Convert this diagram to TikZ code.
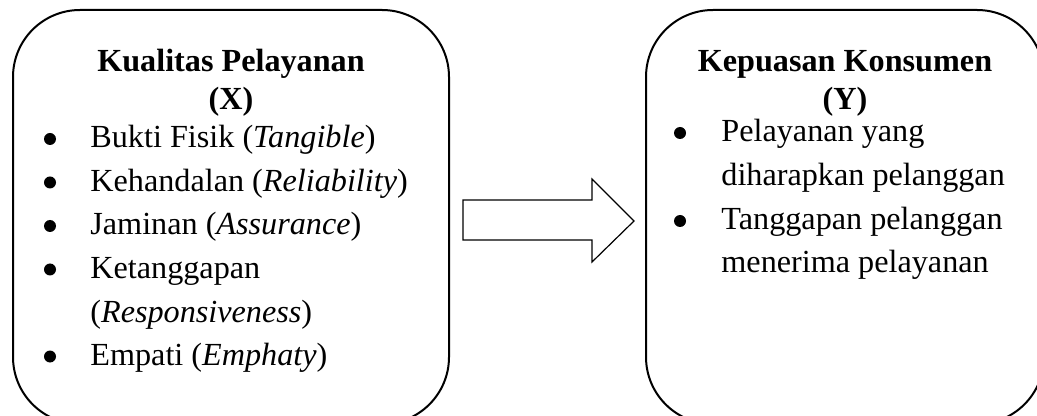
\documentclass[tikz,border=0pt]{standalone}
\usepackage{fontspec}
\setmainfont{Liberation Serif}
\begin{document}
\begin{tikzpicture}[x=0.5pt,y=-0.5pt,
  box/.style={draw,line width=1pt,rounded corners=33.5pt},
  txt/.style={inner sep=0pt,anchor=base west,font=\fontsize{16.1}{20}\selectfont},
  ttl/.style={inner sep=0pt,anchor=base,font=\fontsize{16.1}{20}\selectfont\bfseries},
  bul/.style={circle,fill,inner sep=0pt,minimum size=6pt}]
\useasboundingbox (0,0) rectangle (1037,416);
\begin{scope}
\clip (0,0) rectangle (1037,416);
\draw[box] (13,10) rectangle (449,424);
\draw[box] (646,10) rectangle (1044,424);
\end{scope}
% left box
\node[ttl] (t1) at (231,72) {Kualitas Pelayanan};
\node[ttl] (t2) at (231,110) {(X)};
\node[bul] (b1) at (50,139) {};
\node[txt] (l1) at (90,148) {Bukti Fisik (\textit{Tangible})};
\node[bul] (b2) at (50,182.5) {};
\node[txt] (l2) at (90,191.5) {Kehandalan (\textit{Reliability})};
\node[bul] (b3) at (50,226) {};
\node[txt] (l3) at (90,235) {Jaminan (\textit{Assurance})};
\node[bul] (b4) at (50,269.5) {};
\node[txt] (l4) at (90,278.5) {Ketanggapan};
\node[txt] (l5) at (90,322) {(\textit{Responsiveness})};
\node[bul] (b5) at (50,356.5) {};
\node[txt] (l6) at (90,365.5) {Empati (\textit{Emphaty})};
% right box
\node[ttl] (r1) at (845,72) {Kepuasan Konsumen};
\node[ttl] (r2) at (845,110) {(Y)};
\node[bul] (c1) at (680,133) {};
\node[txt] (m1) at (721,142) {Pelayanan yang};
\node[txt] (m2) at (721,186) {diharapkan pelanggan};
\node[bul] (c2) at (680,221) {};
\node[txt] (m3) at (721,230) {Tanggapan pelanggan};
\node[txt] (m4) at (721,273) {menerima pelayanan};
% arrow
\draw[line width=0.6pt,line join=miter] (463,200) -- (592,200) -- (592,179) -- (634,221) -- (592,262) -- (592,240) -- (463,240) -- cycle;
\end{tikzpicture}
\end{document}
